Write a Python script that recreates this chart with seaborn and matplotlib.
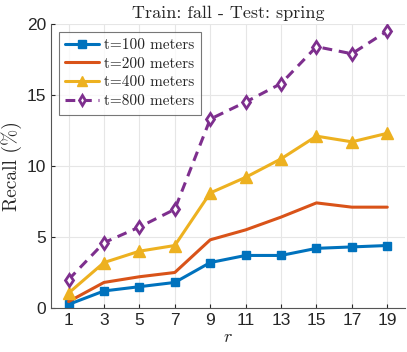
import numpy as np
import pandas as pd
import matplotlib
matplotlib.use("Agg")
import matplotlib.pyplot as plt
import seaborn as sns

r_values = [1, 3, 5, 7, 9, 11, 13, 15, 17, 19]
recall_100 = [0.25, 1.2, 1.5, 1.8, 3.2, 3.7, 3.7, 4.2, 4.3, 4.4]
recall_200 = [0.45, 1.8, 2.2, 2.5, 4.8, 5.5, 6.4, 7.4, 7.1, 7.1]
recall_400 = [1.05, 3.2, 4.0, 4.4, 8.1, 9.2, 10.5, 12.1, 11.7, 12.3]
recall_800 = [2.0, 4.6, 5.7, 6.95, 13.3, 14.5, 15.8, 18.4, 17.9, 19.5]
series_labels = ["t=100 meters", "t=200 meters", "t=400 meters", "t=800 meters"]

colors = ["#0072BD", "#D95319", "#EDB120", "#7E2F8E"]

rows = []
for lab, vals in zip(series_labels, [recall_100, recall_200, recall_400, recall_800]):
    for r, v in zip(r_values, vals):
        rows.append({"r": r, "Recall": v, "Threshold": lab})
df = pd.DataFrame(rows)

sns.set_style("ticks")
plt.rcParams["mathtext.fontset"] = "cm"
plt.rcParams["font.family"] = ["Liberation Sans", "DejaVu Sans"]
serif = "cmr10"

fig = plt.figure(figsize=(4.07, 3.52), dpi=100)
ax = fig.add_axes([0.125, 0.125, 0.87, 0.807])

styles = {
    "t=100 meters": dict(marker="s", ls="-", mfc=colors[0], ms=6),
    "t=200 meters": dict(marker=None, ls="-"),
    "t=400 meters": dict(marker="^", ls="-", mfc=colors[2], ms=8),
    "t=800 meters": dict(marker="d", ls=(0, (3.2, 2.2)), mfc="white", ms=6, mew=2),
}

for lab, col in zip(series_labels, colors):
    sub = df[df["Threshold"] == lab]
    st = styles[lab]
    sns.lineplot(data=sub, x="r", y="Recall", ax=ax, color=col, lw=2.2,
                 marker=st.get("marker"), linestyle=st["ls"],
                 markerfacecolor=st.get("mfc", col), markeredgecolor=col,
                 markersize=st.get("ms", 6), markeredgewidth=st.get("mew", 1),
                 label=lab)

ax.set_xlim(0, 20)
ax.set_ylim(0, 20)
ax.set_xticks(r_values)
ax.set_yticks([0, 5, 10, 15, 20])
ax.grid(True, color="#e6e6e6", lw=0.8)
ax.set_axisbelow(True)
for s in ["top", "right"]:
    ax.spines[s].set_visible(False)
for s in ["left", "bottom"]:
    ax.spines[s].set_color("#555555")
    ax.spines[s].set_linewidth(0.8)
ax.tick_params(direction="in", length=3, labelsize=12.5, colors="#262626")

ax.set_title("Train: fall - Test: spring", family=serif, fontsize=13, pad=4)
ax.set_ylabel("Recall (%)", family=serif, fontsize=14, labelpad=3)
ax.set_xlabel("$r$", fontsize=13, labelpad=1)

leg = ax.legend(loc="upper left", prop={"family": serif, "size": 11},
                frameon=True, fancybox=False, edgecolor="#555555",
                handlelength=2.2, handletextpad=0.3, borderpad=0.45,
                labelspacing=0.32, borderaxespad=0.5, markerscale=0.85)
leg.get_frame().set_linewidth(0.8)

fig.savefig("out.png", dpi=100)
